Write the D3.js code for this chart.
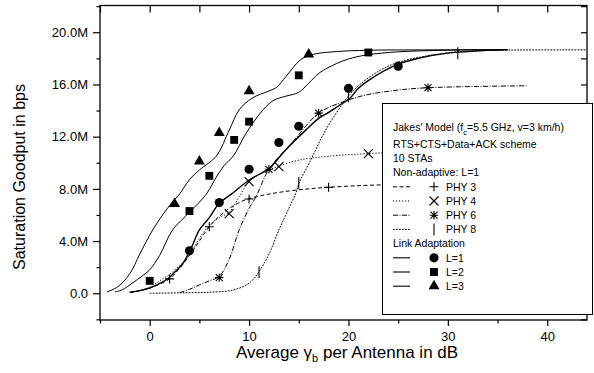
<!DOCTYPE html>
<html>
<head>
<meta charset="utf-8">
<script src="https://cdn.jsdelivr.net/npm/d3@7"></script>
<style>
  body { margin: 0; background: #fff; }
  svg { display: block; font-family: Arial, "Liberation Sans", sans-serif; }
</style>
</head>
<body>
<svg id="chart" width="594" height="373"></svg>
<script>
// values, x in dB, y in Mbps
const xTicks = [0, 10, 20, 30, 40];
const xMinor = [-5, 5, 15, 25, 35];
const yTicks = [0, 4, 8, 12, 16, 20];
const yTickLabels = ["0.0", "4.0M", "8.0M", "12.0M", "16.0M", "20.0M"];
const yMinor = [-2, 2, 6, 10, 14, 18, 22];

const phy3Line = [[-2,0.05],[-1,0.2],[0,0.4],[1,0.7],[2,1.1],[3,1.9],[4,2.9],[5,4.0],[6,5.1],[7,5.9],[8,6.5],[9,6.95],[10,7.25],[12,7.6],[14.7,7.9],[18,8.12],[23,8.3],[30,8.4],[38,8.45]];
const phy4Line = [[-2,0.05],[-1,0.2],[0,0.45],[1,0.95],[2,1.45],[3,2.1],[4,2.9],[5,4.2],[6,5.2],[7,5.8],[8,6.2],[9,7.4],[10,8.55],[11,9.1],[12,9.45],[13,9.75],[15,10.2],[18,10.5],[22,10.7],[26,10.85],[38,11.0]];
const phy6Line = [[3,0.05],[4,0.3],[5,0.64],[6,0.95],[7,1.3],[8,2.6],[9,4.85],[10,6.5],[10.7,7.4],[12,9.5],[14.5,11.7],[17,13.8],[19.2,14.6],[21.8,15.2],[25,15.57],[28,15.75],[38,15.9]];
const phy8Line = [[0,0],[3,0.03],[6,0.08],[8.4,0.25],[10,0.77],[11,1.66],[12,3.0],[13,4.85],[14,6.5],[14.7,7.66],[15,8.4],[16.2,10.2],[17.7,12.5],[19.3,14.4],[20,15.1],[21,15.9],[23,17.0],[25,17.7],[28,18.2],[31,18.5],[35,18.62],[44,18.65]];
const la1Line = [[-2,0.08],[-1,0.2],[0,0.4],[1,0.75],[1.7,1.05],[2.5,1.6],[3.35,2.3],[4.2,3.5],[5,4.85],[6,5.8],[7,6.9],[8.4,7.7],[10,8.68],[11,9.1],[12,9.55],[13.7,11.0],[15.7,12.5],[17,13.4],[18.1,13.9],[19.4,14.56],[20.1,14.9],[21,15.7],[22.1,16.35],[24.8,17.5],[27,18.0],[30,18.4],[36,18.67]];
const la2Line = [[-3.5,0.1],[-2.8,0.25],[-1.7,0.8],[-0.8,1.3],[0,1.8],[1,2.9],[2.3,4.85],[4,6.2],[5.7,7.6],[6.7,8.9],[7.5,9.8],[8.4,10.5],[9.7,12.26],[11.4,14.05],[12.5,14.8],[13.7,15.1],[15,15.4],[16,16.1],[17.1,16.9],[18.8,17.6],[20,17.95],[21.8,18.26],[25,18.5],[30,18.62],[36,18.67]];
const la3Line = [[-4.3,0.1],[-3.2,0.5],[-2,1.5],[-1,3.0],[0.3,4.85],[1.3,6.0],[2.3,7.0],[3,7.6],[4,8.7],[5,9.45],[6.7,10.5],[8,12.5],[9,14.05],[10.3,14.95],[12,15.5],[12.8,15.8],[13.7,16.6],[15.2,17.9],[16.4,18.3],[18.8,18.52],[22,18.62],[28,18.65],[36,18.67]];

const phy3Pts = [[2,1.1],[6,5.1],[10,7.22],[18,8.12]];
const phy4Pts = [[8,6.1],[10,8.55],[13,9.7],[22,10.7]];
const phy6Pts = [[7,1.2],[12,9.5],[17,13.8],[28,15.75]];
const phy8Pts = [[11,1.6],[15,8.45],[20,15.1],[31,18.4]];
const la1Pts = [[4,3.25],[7,6.95],[10,9.5],[13,11.55],[15,12.8],[20,15.7],[25,17.4]];
const la2Pts = [[0,0.95],[4,6.3],[6,9.0],[8.5,11.75],[10,13.15],[15,16.7],[22,18.45]];
const la3Pts = [[2.5,6.85],[5,10.1],[7,12.3],[10,15.5],[16,18.3]];

const legendHead = ["RTS+CTS+Data+ACK scheme", "10 STAs", "Non-adaptive: L=1"];
const phyNames = ["PHY 3", "PHY 4", "PHY 6", "PHY 8"];
const laNames = ["L=1", "L=2", "L=3"];

const svg = d3.select('#chart');
const pLeft = 100, pRight = 587, pTop = 5.5, pBottom = 320;

const x = d3.scaleLinear().domain([-5, 44]).range([pLeft, pRight]);
const y = d3.scaleLinear().domain([-2.05, 22.05]).range([pBottom, pTop]);

// marker paths (stroked ones drawn by hand)
const mk = {
    plus: r => `M${-r},0H${r}M0,${-r}V${r}`,
    times: r => `M${-r},${-r}L${r},${r}M${-r},${r}L${r},${-r}`,
    star: r => `M${-r},${-r}L${r},${r}M${-r},${r}L${r},${-r}M0,${-r*1.2}V${r*1.2}M${-r*1.2},0H${r*1.2}`,
    bar: r => `M0,${-r}V${r}`,
    circle: d3.symbol().type(d3.symbolCircle).size(66)(),
    square: d3.symbol().type(d3.symbolSquare).size(62)(),
    triangle: d3.symbol().type(d3.symbolTriangle).size(52)()
};

const series = [
    { line: phy3Line, pts: phy3Pts, dash: "4,2.5", w: 1, path: mk.plus(4.5), fill: false },
    { line: phy4Line, pts: phy4Pts, dash: "1.2,1.8", w: 1, path: mk.times(4.5), fill: false },
    { line: phy6Line, pts: phy6Pts, dash: "5,1.5,1,1.5", w: 1, path: mk.star(3.5), fill: false },
    { line: phy8Line, pts: phy8Pts, dash: "1.8,1.2", w: 1, path: mk.bar(6), fill: false },
    { line: la1Line, pts: la1Pts, dash: null, w: 1.4, path: mk.circle, fill: true },
    { line: la2Line, pts: la2Pts, dash: null, w: 1, path: mk.square, fill: true },
    { line: la3Line, pts: la3Pts, dash: null, w: 1, path: mk.triangle, fill: true }
];

const line = d3.line()
    .x(d => x(d[0]))
    .y(d => y(d[1]))
    .curve(d3.curveCatmullRom.alpha(0.5));

const g = svg.append('g');
series.forEach(s => {
    g.append('path')
        .attr('d', line(s.line))
        .attr('fill', 'none')
        .attr('stroke', '#000')
        .attr('stroke-width', s.w)
        .attr('stroke-dasharray', s.dash);
    g.selectAll(null)
        .data(s.pts)
        .enter()
        .append('path')
        .attr('transform', d => `translate(${x(d[0])},${y(d[1])})`)
        .attr('d', s.path)
        .attr('fill', s.fill ? '#000' : 'none')
        .attr('stroke', '#000')
        .attr('stroke-width', s.fill ? 0 : 1.1);
});

// axes
const fontTick = 13;
const yMinorIn = yMinor.filter(v => v > -2.05 && v < 22.05);
svg.append('g').attr('transform', `translate(0,${pBottom})`)
    .call(d3.axisBottom(x).tickValues(xTicks).tickSize(6).tickPadding(6).tickSizeOuter(0));
svg.append('g').attr('transform', `translate(0,${pBottom})`)
    .call(d3.axisBottom(x).tickValues(xMinor).tickSize(3.5).tickFormat('').tickSizeOuter(0));
svg.append('g').attr('transform', `translate(${pLeft},0)`)
    .call(d3.axisLeft(y).tickValues(yTicks).tickFormat((d, i) => yTickLabels[i]).tickSize(7).tickPadding(5).tickSizeOuter(0));
svg.append('g').attr('transform', `translate(${pLeft},0)`)
    .call(d3.axisLeft(y).tickValues(yMinorIn).tickSize(3.5).tickFormat('').tickSizeOuter(0));
svg.append('g').attr('transform', `translate(0,${pTop})`)
    .call(d3.axisTop(x).tickValues(xTicks.concat(xMinor)).tickSize(-7).tickFormat('').tickSizeOuter(0));
svg.append('g').attr('transform', `translate(${pRight},0)`)
    .call(d3.axisRight(y).tickValues(yTicks.concat(yMinorIn)).tickSize(-6).tickFormat('').tickSizeOuter(0));
svg.selectAll('.domain').remove();
svg.selectAll('.tick line').attr('stroke', '#000').attr('stroke-width', 1.2);
svg.selectAll('.tick text').attr('font-size', fontTick).attr('font-family', 'Arial, "Liberation Sans", sans-serif').attr('fill', '#000');

svg.append('rect')
    .attr('x', pLeft).attr('y', pTop)
    .attr('width', pRight - pLeft).attr('height', pBottom - pTop)
    .attr('fill', 'none').attr('stroke', '#000').attr('stroke-width', 1.3);

// axis titles
const xt = svg.append('text')
    .attr('x', 347).attr('y', 358)
    .attr('text-anchor', 'middle')
    .attr('font-size', 17);
xt.append('tspan').text('Average \u03b3');
xt.append('tspan').attr('font-size', 11).attr('dy', 4).text('b');
xt.append('tspan').attr('dy', -4).text(' per Antenna in dB');

svg.append('text')
    .attr('transform', 'translate(25,177) rotate(-90)')
    .attr('text-anchor', 'middle')
    .attr('font-size', 16)
    .text('Saturation Goodput in bps');

// legend
const lg = svg.append('g');
lg.append('rect')
    .attr('x', 382.5).attr('y', 103.5).attr('width', 210).attr('height', 211)
    .attr('fill', '#fff').attr('stroke', '#000').attr('stroke-width', 1);

const lf = 10.5, tx = 393;
const jt = lg.append('text').attr('x', tx).attr('y', 131).attr('font-size', lf);
jt.append('tspan').text("Jakes' Model (f");
jt.append('tspan').attr('font-size', 7.5).attr('dy', 3.5).text('c');
jt.append('tspan').attr('dy', -3.5).text('=5.5 GHz, v=3 km/h)');

const rowY = i => 148 + i * 14.2;
legendHead.forEach((t, i) => {
    lg.append('text').attr('x', tx).attr('y', rowY(i)).attr('font-size', lf).text(t);
});
lg.append('text').attr('x', tx).attr('y', rowY(7)).attr('font-size', lf).text('Link Adaptation');

const rows = phyNames.map((n, i) => ({ name: n, s: series[i], row: 3 + i }))
    .concat(laNames.map((n, i) => ({ name: n, s: series[4 + i], row: 8 + i })));
rows.forEach(r => {
    const cy = rowY(r.row) - 3.8;
    lg.append('line')
        .attr('x1', 393).attr('x2', 410).attr('y1', cy).attr('y2', cy)
        .attr('stroke', '#000').attr('stroke-width', r.s.dash ? 1 : 1.1)
        .attr('stroke-dasharray', r.s.dash);
    lg.append('path')
        .attr('transform', `translate(434,${cy})`)
        .attr('d', r.s.path)
        .attr('fill', r.s.fill ? '#000' : 'none')
        .attr('stroke', '#000')
        .attr('stroke-width', r.s.fill ? 0 : 1.1);
    lg.append('text').attr('x', 446).attr('y', rowY(r.row)).attr('font-size', lf).text(r.name);
});
</script>
</body>
</html>
